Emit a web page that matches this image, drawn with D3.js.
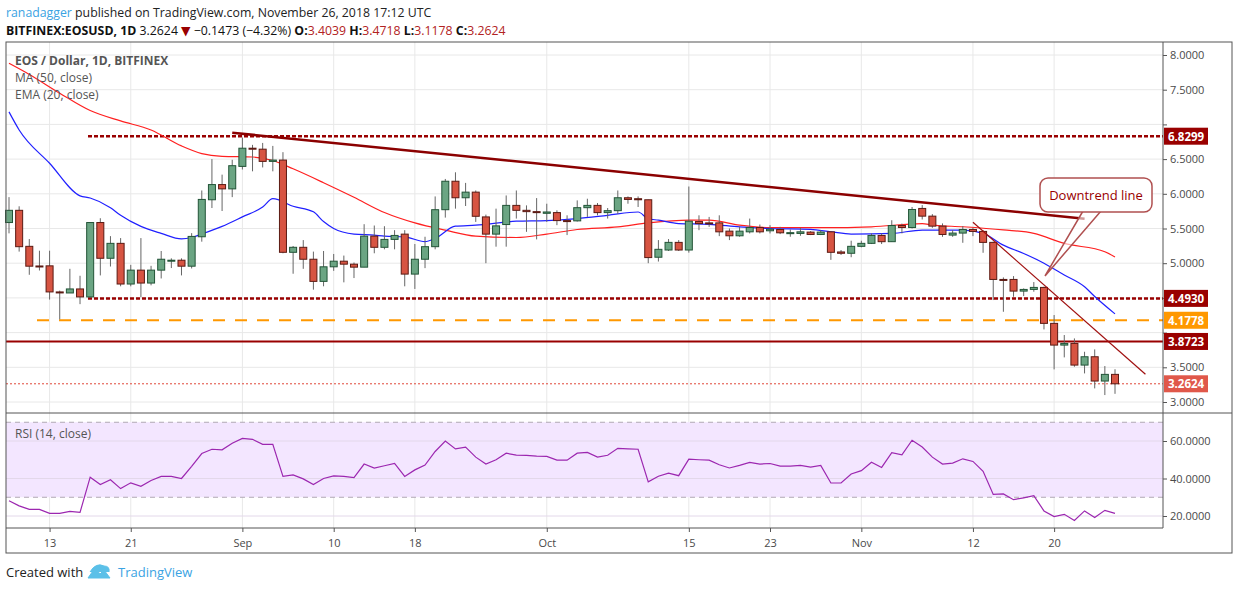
<!DOCTYPE html>
<html>
<head>
<meta charset="utf-8">
<script src="https://cdn.jsdelivr.net/npm/d3@7"></script>
<style>
  body { margin: 0; background: #fff; }
  svg text { font-family: "Open Sans", "DejaVu Sans", sans-serif; }
</style>
</head>
<body>
<div id="chart"></div>
<script>
// daily candles, Aug 9 (day 0) to Nov 26 (day 109)
var opens  = [5.586,5.762,5.243,4.96,4.962,4.586,4.571,4.629,4.514,5.586,5.071,5.286,4.7,4.9,4.714,4.9,5.04,5.043,4.957,5.381,5.914,6.133,6.071,6.395,6.657,6.643,6.467,6.486,5.157,5.229,5.057,4.738,4.948,5.029,4.986,4.943,5.39,5.229,5.343,5.419,4.843,5.057,5.238,5.771,6.181,5.943,6.024,5.667,5.419,5.557,5.833,5.762,5.743,5.719,5.729,5.614,5.61,5.8,5.833,5.729,5.757,5.943,5.929,5.914,5.086,5.19,5.3,5.19,5.6,5.581,5.581,5.462,5.395,5.452,5.514,5.467,5.486,5.438,5.429,5.448,5.414,5.452,5.162,5.143,5.243,5.286,5.4,5.31,5.543,5.514,5.789,5.678,5.534,5.405,5.434,5.486,5.458,5.3,4.766,4.766,4.598,4.622,4.651,4.133,3.82,3.844,3.532,3.652,3.302,3.398];
var highs  = [5.952,5.82,5.348,5.18,5.18,4.605,4.919,4.819,5.59,5.648,5.39,5.362,4.976,5.362,4.962,5.176,5.07,5.07,5.433,6.048,6.5,6.276,6.49,6.81,6.705,6.733,6.69,6.6,5.248,5.333,5.167,5.176,5.133,5.11,5.01,5.562,5.543,5.533,5.476,5.476,5.276,5.381,5.962,6.214,6.31,6.157,6.048,5.7,5.786,5.976,6.048,5.833,5.938,5.857,5.762,5.69,5.905,5.929,5.867,5.795,6.048,5.962,5.962,5.914,5.333,5.348,5.333,6.105,5.69,5.667,5.69,5.5,5.524,5.643,5.557,5.548,5.524,5.486,5.51,5.462,5.476,5.462,5.19,5.324,5.324,5.429,5.429,5.619,5.571,5.81,5.837,5.707,5.573,5.477,5.534,5.51,5.477,5.31,4.795,4.814,4.637,4.728,4.661,4.253,3.965,3.916,3.724,3.758,3.518,3.4718];
var lows   = [5.43,5.167,4.833,4.895,4.476,4.19,4.571,4.41,4.5,4.824,4.952,4.667,4.667,4.51,4.681,4.78,4.93,4.824,4.924,5.31,5.795,5.752,5.952,6.35,6.324,6.38,6.324,5.143,4.848,4.919,4.619,4.667,4.89,4.724,4.786,4.943,5.143,5.2,5.2,4.667,4.629,4.929,5.2,5.657,5.786,5.824,5.595,5.0,5.238,5.238,5.643,5.452,5.343,5.595,5.548,5.405,5.6,5.667,5.69,5.643,5.71,5.857,5.81,5.0,5.024,5.176,5.176,5.152,5.476,5.524,5.39,5.333,5.381,5.429,5.429,5.429,5.419,5.381,5.395,5.405,5.405,5.048,5.119,5.086,5.229,5.276,5.276,5.31,5.429,5.5,5.63,5.51,5.38,5.38,5.294,5.39,5.15,4.469,4.3,4.517,4.526,4.589,4.046,3.47,3.643,3.508,3.412,3.196,3.1,3.1178];
var closes = [5.762,5.238,4.957,4.955,4.586,4.58,4.629,4.514,5.586,5.071,5.286,4.7,4.9,4.714,4.9,5.057,5.043,4.957,5.386,5.919,6.133,6.071,6.405,6.657,6.652,6.467,6.486,5.157,5.229,5.057,4.738,4.948,5.029,4.986,4.943,5.39,5.229,5.343,5.4,4.843,5.057,5.238,5.771,6.181,5.943,6.024,5.676,5.419,5.538,5.833,5.762,5.743,5.729,5.738,5.614,5.61,5.8,5.833,5.729,5.757,5.943,5.919,5.914,5.081,5.2,5.3,5.19,5.605,5.571,5.571,5.452,5.395,5.462,5.514,5.452,5.49,5.438,5.44,5.452,5.414,5.448,5.157,5.143,5.243,5.286,5.4,5.31,5.543,5.514,5.774,5.678,5.534,5.414,5.434,5.486,5.458,5.3,4.766,4.76,4.598,4.622,4.651,4.133,3.82,3.844,3.532,3.652,3.302,3.398,3.2624];

// MA(50) and EMA(20) at sample days
var maDays  = [0,2,5,8,11,14,17,19,21,24,26,28,31,34,37,40,43,46,50,53,56,60,63,67,69,72,75,82,85,90,91,94,98,101,104,108,109];
var maVals  = [7.88,7.72,7.45,7.2,7.05,6.92,6.69,6.58,6.54,6.53,6.48,6.36,6.16,5.95,5.73,5.58,5.476,5.39,5.37,5.42,5.486,5.524,5.58,5.62,5.62,5.548,5.514,5.514,5.524,5.571,5.55,5.525,5.48,5.43,5.285,5.165,5.09];
var emaDays = [0,1,4,7,8,10,11,13,15,17,18,19,21,23,25,26,28,30,31,32,34,36,37,39,41,42,44,46,50,53,56,59,62,63,64,66,69,72,75,79,81,83,87,90,94,96,98,100,102,104,106,107,109];
var emaVals = [7.18,6.92,6.44,5.97,5.94,5.8,5.69,5.53,5.43,5.35,5.37,5.42,5.53,5.667,5.81,5.93,5.82,5.74,5.6,5.5,5.42,5.405,5.39,5.38,5.31,5.357,5.533,5.548,5.605,5.614,5.643,5.69,5.738,5.64,5.62,5.571,5.56,5.524,5.5,5.486,5.452,5.42,5.43,5.477,5.477,5.43,5.26,5.14,5.0,4.83,4.66,4.52,4.27];

// RSI(14)
var rsiVals = [28.1,25.4,23.5,23.5,21.4,21.4,22.5,21.9,40.7,36.8,39.3,34.6,37.7,35.8,38.9,41.1,41.1,40,46.5,53.3,55.6,55.3,58.8,61.4,60.9,58.2,58.2,41.1,41.9,39.8,36.8,40,41.4,41.1,40.5,47.7,45.6,46.8,48.1,41.1,44.6,47.2,54.4,60,55.8,56.7,51.4,47.7,50,53.5,52.5,52.3,51.9,51.8,49.8,49.8,53.5,53.9,51.4,52.4,56.1,55.8,55.6,38.2,41.2,42.9,41.5,50.3,50,49.8,47.3,45.6,47,48.6,47.7,48,46.6,46.6,47,46.1,47,37.6,37.6,42.4,44.2,48.7,45.9,53.8,52.6,60.4,56.8,51.4,47.7,48.2,50.5,49.1,43.8,31.5,31.8,28.7,29.7,30.8,22.7,19.7,20.9,17.6,22.7,19.2,23,21.4];

// axes and levels
var tickDays   = [4,12,23,32,40,53,67,75,84,95,103];
var tickLabels = ['13','21','Sep','10','18','Oct','15','23','Nov','12','20'];
var priceTicks = [3,3.5,4,4.5,5,5.5,6,6.5,7,7.5,8];
var rsiTicks   = [20,40,60];
var levels     = [6.8299,4.4930,4.1778,3.8723,3.2624];
var trendLine  = [[22,6.88],[106,5.64]];
var downLine   = [[95,5.59],[112,3.40]];

var W = 1240, H = 590;
var left = 6, axisX = 1163, right = 1232;
var svg = d3.select('#chart').append('svg').attr('width', W).attr('height', H);

var x = d3.scaleLinear().domain([0,109]).range([9,1115]);
var y = d3.scaleLinear().domain([3,8]).range([402,55]);
var yr = d3.scaleLinear().domain([20,60]).range([516,441]);

var priceTop = 42, paneSplit = 413, timeAxisY = 528, bottom = 553;

// grid
var grid = svg.append('g').attr('stroke', '#e8e8e8').attr('stroke-width', 1);
tickDays.forEach(function(d){
  grid.append('line').attr('x1', x(d)).attr('x2', x(d)).attr('y1', priceTop).attr('y2', timeAxisY);
});
priceTicks.forEach(function(p){
  grid.append('line').attr('x1', left).attr('x2', axisX).attr('y1', y(p)).attr('y2', y(p));
});

// RSI band
svg.append('rect').attr('x', left).attr('width', axisX - left)
  .attr('y', yr(70)).attr('height', yr(30) - yr(70)).attr('fill', '#f3e6ff');
rsiTicks.forEach(function(r){
  svg.append('line').attr('x1', left).attr('x2', axisX).attr('y1', yr(r)).attr('y2', yr(r))
    .attr('stroke', '#e3d8ea');
});
[70,30].forEach(function(r){
  svg.append('line').attr('x1', left).attr('x2', axisX).attr('y1', yr(r)).attr('y2', yr(r))
    .attr('stroke', '#b0a8b4').attr('stroke-dasharray', '5,4');
});

// horizontal levels
var lv = svg.append('g');
lv.append('line').attr('x1', 88).attr('x2', axisX).attr('y1', y(levels[0])).attr('y2', y(levels[0]))
  .attr('stroke', '#990000').attr('stroke-width', 2.5).attr('stroke-dasharray', '4,2');
lv.append('line').attr('x1', 88).attr('x2', axisX).attr('y1', y(levels[1])).attr('y2', y(levels[1]))
  .attr('stroke', '#990000').attr('stroke-width', 2.5).attr('stroke-dasharray', '4,2');
lv.append('line').attr('x1', 37).attr('x2', axisX).attr('y1', y(levels[2])).attr('y2', y(levels[2]))
  .attr('stroke', '#ff9800').attr('stroke-width', 2).attr('stroke-dasharray', '12,10');
lv.append('line').attr('x1', left).attr('x2', axisX).attr('y1', y(levels[3])).attr('y2', y(levels[3]))
  .attr('stroke', '#990000').attr('stroke-width', 2);
lv.append('line').attr('x1', left).attr('x2', axisX).attr('y1', y(levels[4])).attr('y2', y(levels[4]))
  .attr('stroke', '#e0483a').attr('stroke-width', 1).attr('stroke-dasharray', '2,2');

// moving averages
var lineFn = d3.line().x(function(d){ return x(d[0]); }).y(function(d){ return y(d[1]); }).curve(d3.curveMonotoneX);
svg.append('path').datum(d3.zip(maDays, maVals)).attr('d', lineFn)
  .attr('fill', 'none').attr('stroke', '#ff2020').attr('stroke-width', 1.2);
svg.append('path').datum(d3.zip(emaDays, emaVals)).attr('d', lineFn)
  .attr('fill', 'none').attr('stroke', '#2020ff').attr('stroke-width', 1.2);

// candles
var bw = 7;
var candles = svg.append('g');
closes.forEach(function(c, i){
  var o = opens[i], up = c >= o;
  var stroke = up ? '#225437' : '#5b1a13';
  candles.append('line').attr('x1', x(i)).attr('x2', x(i))
    .attr('y1', y(highs[i])).attr('y2', y(lows[i])).attr('stroke', '#666').attr('stroke-width', 1);
  var top = y(Math.max(o, c)), h = Math.max(1, Math.abs(y(o) - y(c)));
  candles.append('rect').attr('x', x(i) - bw/2).attr('y', top).attr('width', bw).attr('height', h)
    .attr('fill', up ? '#6ba583' : '#d75442').attr('stroke', stroke).attr('stroke-width', 1);
});

// trend lines
svg.append('line').attr('x1', x(trendLine[0][0])).attr('y1', y(trendLine[0][1]))
  .attr('x2', x(trendLine[1][0])).attr('y2', y(trendLine[1][1]))
  .attr('stroke', '#8b0000').attr('stroke-width', 2.5);
svg.append('line').attr('x1', x(downLine[0][0])).attr('y1', y(downLine[0][1]))
  .attr('x2', x(downLine[1][0])).attr('y2', y(downLine[1][1]))
  .attr('stroke', '#a01010').attr('stroke-width', 1.2);

// callout
svg.append('path').attr('d', 'M1083,211 L1045,276 L1101,211 Z')
  .attr('fill', '#fff').attr('fill-opacity', 0.6).attr('stroke', '#b05050').attr('stroke-width', 1.5);
svg.append('rect').attr('x', 1040).attr('y', 178).attr('width', 112).attr('height', 34).attr('rx', 8)
  .attr('fill', '#fff').attr('stroke', '#b05050').attr('stroke-width', 1.5);
svg.append('text').attr('x', 1096).attr('y', 200).attr('text-anchor', 'middle')
  .attr('font-size', 13).attr('fill', '#990000').text('Downtrend line');

// RSI line
svg.append('path').datum(rsiVals)
  .attr('d', d3.line().x(function(d, i){ return x(i); }).y(function(d){ return yr(d); }))
  .attr('fill', 'none').attr('stroke', '#9c27b0').attr('stroke-width', 1.2);

// frames
var fr = svg.append('g').attr('stroke', '#555').attr('fill', 'none');
fr.append('rect').attr('x', left).attr('y', priceTop).attr('width', right - left).attr('height', bottom - priceTop);
fr.append('line').attr('x1', axisX).attr('x2', axisX).attr('y1', priceTop).attr('y2', timeAxisY);
fr.append('line').attr('x1', left).attr('x2', right).attr('y1', paneSplit).attr('y2', paneSplit);
fr.append('line').attr('x1', left).attr('x2', axisX).attr('y1', timeAxisY).attr('y2', timeAxisY);

// axes (tick labels hidden where a level tag sits on top of them)
var hidden = [7, 4];
var yAxis = d3.axisRight(y).tickValues(priceTicks).tickSize(4)
  .tickFormat(function(d){ return hidden.indexOf(d) >= 0 ? '' : d3.format('.4f')(d); });
var ga = svg.append('g').attr('transform', 'translate(' + axisX + ',0)').call(yAxis);
var ra = svg.append('g').attr('transform', 'translate(' + axisX + ',0)')
  .call(d3.axisRight(yr).tickValues(rsiTicks).tickSize(4).tickFormat(d3.format('.4f')));
var xa = svg.append('g').attr('transform', 'translate(0,' + timeAxisY + ')')
  .call(d3.axisBottom(x).tickValues(tickDays).tickSize(4).tickFormat(function(d, i){ return tickLabels[i]; }));
[ga, ra, xa].forEach(function(g){
  g.select('.domain').remove();
  g.selectAll('line').attr('stroke', '#555');
  g.selectAll('text').attr('fill', '#4a4a4a').attr('font-size', 11).style('font-family', '"Open Sans", sans-serif');
});
ga.selectAll('text').attr('x', 7);
ra.selectAll('text').attr('x', 7);
xa.selectAll('text').attr('dy', '1.1em');

// level labels on the price axis
var tags = [[levels[0],'#990000'],[levels[1],'#990000'],[levels[2],'#ff9800'],[levels[3],'#990000'],[levels[4],'#e0584a']];
tags.forEach(function(t){
  svg.append('rect').attr('x', axisX + 1).attr('y', y(t[0]) - 8.5).attr('width', 44).attr('height', 17).attr('fill', t[1]);
  svg.append('text').attr('x', axisX + 5).attr('y', y(t[0]) + 4.5).attr('font-size', 11.5)
    .attr('font-weight', 'bold').attr('fill', '#fff').text(t[0].toFixed(4));
});

// pane legends
var lg = svg.append('g').attr('font-size', 12).attr('fill', '#555');
lg.append('text').attr('x', 15).attr('y', 65).attr('font-weight', 'bold').text('EOS / Dollar, 1D, BITFINEX');
lg.append('text').attr('x', 15).attr('y', 82).text('MA (50, close)');
lg.append('text').attr('x', 15).attr('y', 99).text('EMA (20, close)');
lg.append('text').attr('x', 15).attr('y', 438).text('RSI (14, close)');

// header
var h1 = svg.append('text').attr('x', 6).attr('y', 17).attr('font-size', 12.3).attr('fill', '#222');
h1.append('tspan').attr('fill', '#3aa3e3').text('ranadagger');
h1.append('tspan').text(' published on TradingView.com, November 26, 2018 17:12 UTC');
var h2 = svg.append('text').attr('x', 6).attr('y', 35).attr('font-size', 12.3).attr('fill', '#111');
h2.append('tspan').attr('font-weight', 'bold').text('BITFINEX:EOSUSD, 1D');
h2.append('tspan').text('  3.2624 ');
h2.append('tspan').attr('fill', '#990000').text('▼');
h2.append('tspan').text(' −0.1473 (−4.32%) ');
[['O:','3.4039'],['H:','3.4718'],['L:','3.1178'],['C:','3.2624']].forEach(function(p){
  h2.append('tspan').attr('font-weight', 'bold').text(p[0]);
  h2.append('tspan').attr('fill', '#b22222').text(p[1] + ' ');
});

// footer
svg.append('text').attr('x', 6).attr('y', 577).attr('font-size', 13).attr('fill', '#222').text('Created with');
svg.append('path').attr('d', 'M88,578 L95,568 L100,574 L104,570 L110,578 Z M90,572 Q96,562 104,566 Q110,566 109,572')
  .attr('fill', '#5bc0e8').attr('stroke', '#5bc0e8');
svg.append('text').attr('x', 118).attr('y', 577).attr('font-size', 13).attr('fill', '#3aa3e3').text('TradingView');
</script>
</body>
</html>
